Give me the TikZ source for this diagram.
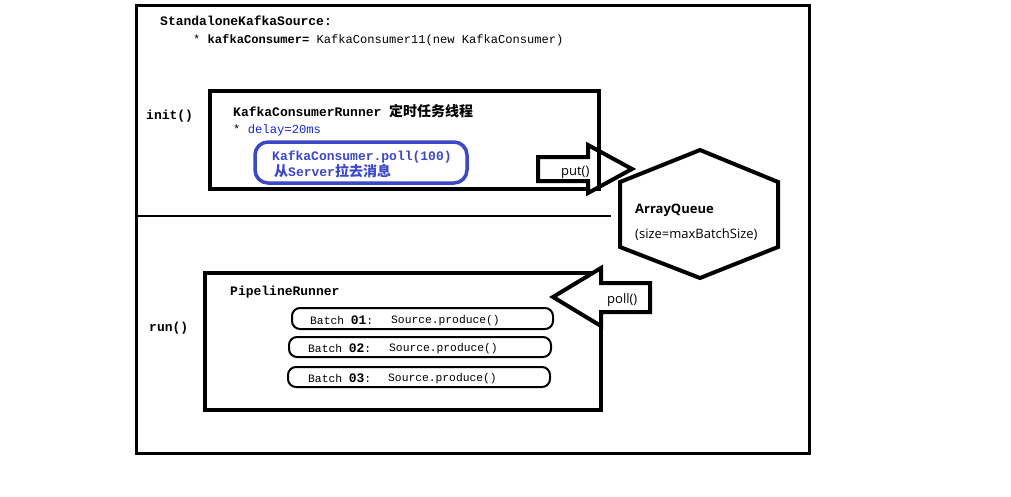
\documentclass[tikz,border=0pt]{standalone}
\usepackage{fontspec}
\setmonofont{Liberation Mono}
\setsansfont{Open Sans}
\newfontfamily\cjk{Noto Sans CJK SC}
\newcommand{\cj}[1]{{\cjk\bfseries\fontsize{14}{15}\selectfont #1}}
\begin{document}
\begin{tikzpicture}[x=1pt,y=-1pt,
  txt/.style={anchor=base west,inner sep=0pt,font=\ttfamily\fontsize{12.2}{14}\selectfont},
  btxt/.style={txt,font=\ttfamily\bfseries\fontsize{13}{14}\selectfont},
  smtxt/.style={anchor=base west,inner sep=0pt,font=\ttfamily\fontsize{11.3}{13}\selectfont},
  sans/.style={anchor=base west,inner sep=0pt,font=\sffamily\fontsize{13}{15}\selectfont},
  frame/.style={draw=black,line width=4pt},
  capsule/.style={draw=black,line width=2pt,rounded corners=8pt},
  blockarrow/.style={draw=black,line width=4pt,line join=miter,fill=white}
]
\definecolor{qblue}{RGB}{60,72,200}
\definecolor{tblue}{RGB}{20,40,220}
\useasboundingbox (0,0) rectangle (1011,496);
\fill[white] (0,0) rectangle (1011,496);

% outer frame
\draw[line width=3pt] (136,5) rectangle (809,453);
\node[btxt] (title) at (160,25) {StandaloneKafkaSource:};
\node[txt,font=\ttfamily\fontsize{12.1}{14}\selectfont] (field) at (193,43) {* \textbf{kafkaConsumer=} KafkaConsumer11(new KafkaConsumer)};

% divider
\coordinate (dl) at (136,216);
\coordinate (dr) at (611,216);
\draw[line width=2pt] (dl) -- (dr);

% init section
\node[btxt] (init) at (146,119) {init()};
\draw[frame] (210,91) rectangle (599,189);
\node[btxt] (kcr) at (233,116) {KafkaConsumerRunner \cj{定时任务线程}};
\node[txt] (delay) at (233,133) {* \textcolor{tblue}{delay=20ms}};
\draw[qblue,line width=3.5pt,rounded corners=13pt] (255,142) rectangle (467,183);
\node[btxt,text=qblue] (poll100) at (272,160) {KafkaConsumer.poll(100)};
\node[btxt,text=qblue] (fromsrv) at (274,176) {\cj{从}Server\cj{拉去消息}};

% put arrow
\draw[blockarrow] (538,157) -- (588,157) -- (588,145) -- (632,169) -- (588,193) -- (588,181) -- (538,181) -- cycle;
\draw[line width=4pt] (599,140) -- (599,189);
\node[sans] (put) at (561,175) {put()};

% hexagon
\draw[line width=4pt,line join=miter] (700,150) -- (778,182) -- (778,247) -- (700,278) -- (620,247) -- (620,182) -- cycle;
\node[sans,font=\sffamily\bfseries\fontsize{13}{15}\selectfont] (aq) at (635,213) {ArrayQueue};
\node[sans] (aqsize) at (635,238) {(size=maxBatchSize)};

% run section
\node[btxt] (run) at (149,331) {run()};
\draw[frame] (205,273) rectangle (601,410);
\node[btxt] (pr) at (230,295) {PipelineRunner};

% poll arrow
\draw[blockarrow] (650,283) -- (601,283) -- (601,268) -- (553,297) -- (601,326) -- (601,312) -- (650,312) -- cycle;
\node[sans] (poll) at (607,303) {poll()};

% batches
\draw[capsule] (292,308) rectangle (553,329);
\node[smtxt] (b1) at (310,324) {Batch {\bfseries\fontsize{13}{14}\selectfont 01}:};
\node[smtxt] (s1) at (391,323) {Source.produce()};
\draw[capsule] (289,337) rectangle (551,357);
\node[smtxt] (b2) at (308,352) {Batch {\bfseries\fontsize{13}{14}\selectfont 02}:};
\node[smtxt] (s2) at (389,351) {Source.produce()};
\draw[capsule] (288,367) rectangle (550,387);
\node[smtxt] (b3) at (308,382) {Batch {\bfseries\fontsize{13}{14}\selectfont 03}:};
\node[smtxt] (s3) at (388,381) {Source.produce()};
\end{tikzpicture}
\end{document}
